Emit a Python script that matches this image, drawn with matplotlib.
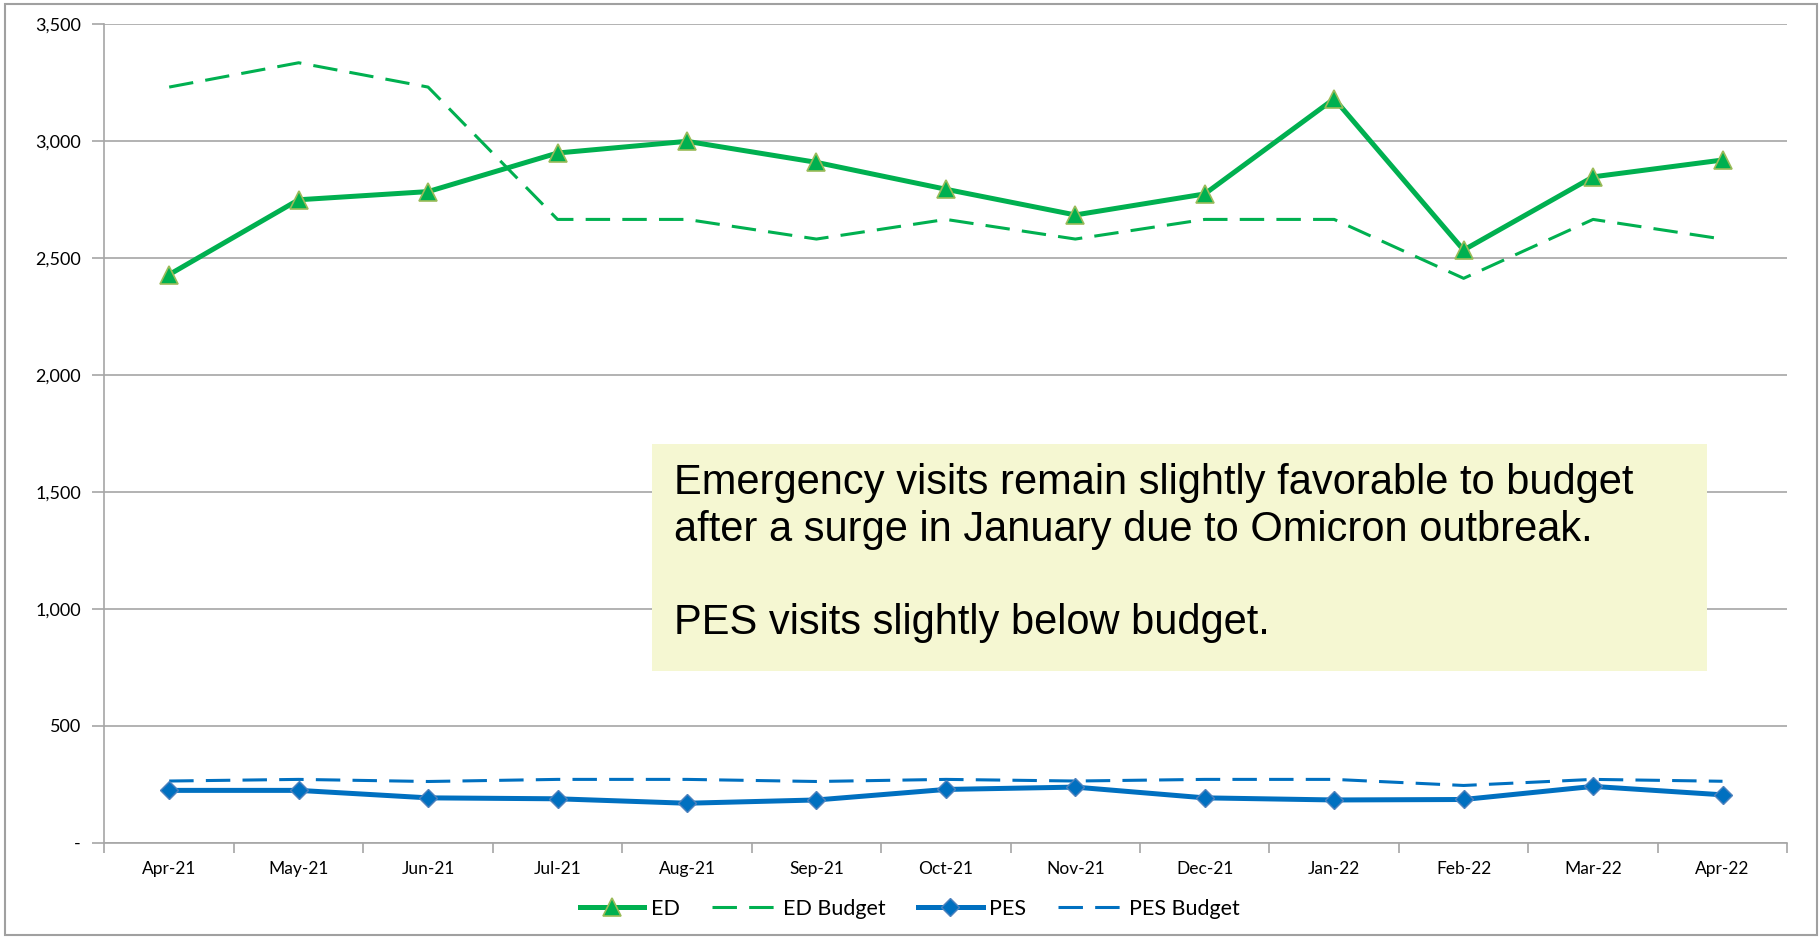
import matplotlib.pyplot as plt
from matplotlib.patches import Rectangle
from matplotlib.ticker import FuncFormatter

months = ['Apr-21', 'May-21', 'Jun-21', 'Jul-21', 'Aug-21', 'Sep-21', 'Oct-21',
          'Nov-21', 'Dec-21', 'Jan-22', 'Feb-22', 'Mar-22', 'Apr-22']
ed = [2430, 2750, 2785, 2950, 3000, 2910, 2795, 2685, 2775, 3182, 2535, 2848, 2920]
ed_budget = [3232, 3336, 3232, 2666, 2666, 2582, 2666, 2582, 2666, 2666, 2414, 2666, 2582]
pes = [224, 224, 192, 188, 169, 183, 228, 238, 192, 183, 185, 241, 205]
pes_budget = [264, 271, 262, 271, 271, 262, 271, 264, 271, 271, 245, 271, 263]

note = ('Emergency visits remain slightly favorable to budget\n'
        'after a surge in January due to Omicron outbreak.\n\n'
        'PES visits slightly below budget.')

green = '#00B050'
blue = '#0070C0'
grid = '#A6A6A6'

plt.rcParams['font.family'] = ['Lato', 'DejaVu Sans']

fig = plt.figure(figsize=(18.2, 9.39), dpi=100)
ax = fig.add_axes([0.0574, 0.1025, 0.9246, 0.8715])

x = range(len(months))
ax.plot(x, ed, color=green, lw=3.6, marker='^', ms=13, mfc=green,
        mec='#9BBB59', mew=1.2, label='ED', zorder=4)
ax.plot(x, ed_budget, color=green, lw=2.2, dashes=(8, 4), label='ED Budget', zorder=3)
ax.plot(x, pes, color=blue, lw=3.6, marker='D', ms=9, mfc=blue,
        mec='#4F81BD', mew=1.0, label='PES', zorder=4)
ax.plot(x, pes_budget, color=blue, lw=2.2, dashes=(8, 4), label='PES Budget', zorder=3)

ax.set_xlim(-0.5, len(months) - 0.5)
ax.set_ylim(0, 3500)
ax.set_yticks(range(0, 3501, 500))
ax.yaxis.set_major_formatter(FuncFormatter(lambda v, p: '-' if v == 0 else f'{int(v):,}'))
ax.grid(axis='y', color=grid, lw=1.2)
ax.set_axisbelow(True)

# category labels centred, tick marks on the boundaries
ax.set_xticks([i + 0.5 for i in range(-1, len(months))])
ax.set_xticklabels([])
ax.set_xticks(list(x), minor=True)
ax.set_xticklabels(months, minor=True)
ax.tick_params(axis='x', which='major', length=7, color=grid, width=1.2)
ax.tick_params(axis='x', which='minor', length=0, pad=13, labelsize=12.5)
ax.tick_params(axis='y', length=9, color=grid, width=1.2, labelsize=13, pad=8)

for s in ['top', 'right']:
    ax.spines[s].set_visible(False)
for s in ['left', 'bottom']:
    ax.spines[s].set_color(grid)
    ax.spines[s].set_linewidth(1.2)

box = Rectangle((652 / 1820, 1 - 671 / 939), (1707 - 652) / 1820, (671 - 444) / 939,
                transform=fig.transFigure, facecolor='#F5F7D2', edgecolor='none', zorder=5)
fig.patches.append(box)
fig.text(674 / 1820, 1 - 463 / 939, note, family=['Liberation Sans', 'DejaVu Sans'],
         fontsize=30, va='top', ha='left', linespacing=1.22, zorder=6)

fig.legend(loc='center', bbox_to_anchor=(0.5, 0.032), ncol=4, frameon=False,
           fontsize=15.5, handlelength=3.0, columnspacing=1.5, handletextpad=0.3)

border = Rectangle((5 / 1820, 4 / 939), 1812 / 1820, 931 / 939, transform=fig.transFigure,
                   facecolor='none', edgecolor='#A0A0A0', lw=1.5)
fig.patches.append(border)

fig.savefig('out.png', dpi=100)
